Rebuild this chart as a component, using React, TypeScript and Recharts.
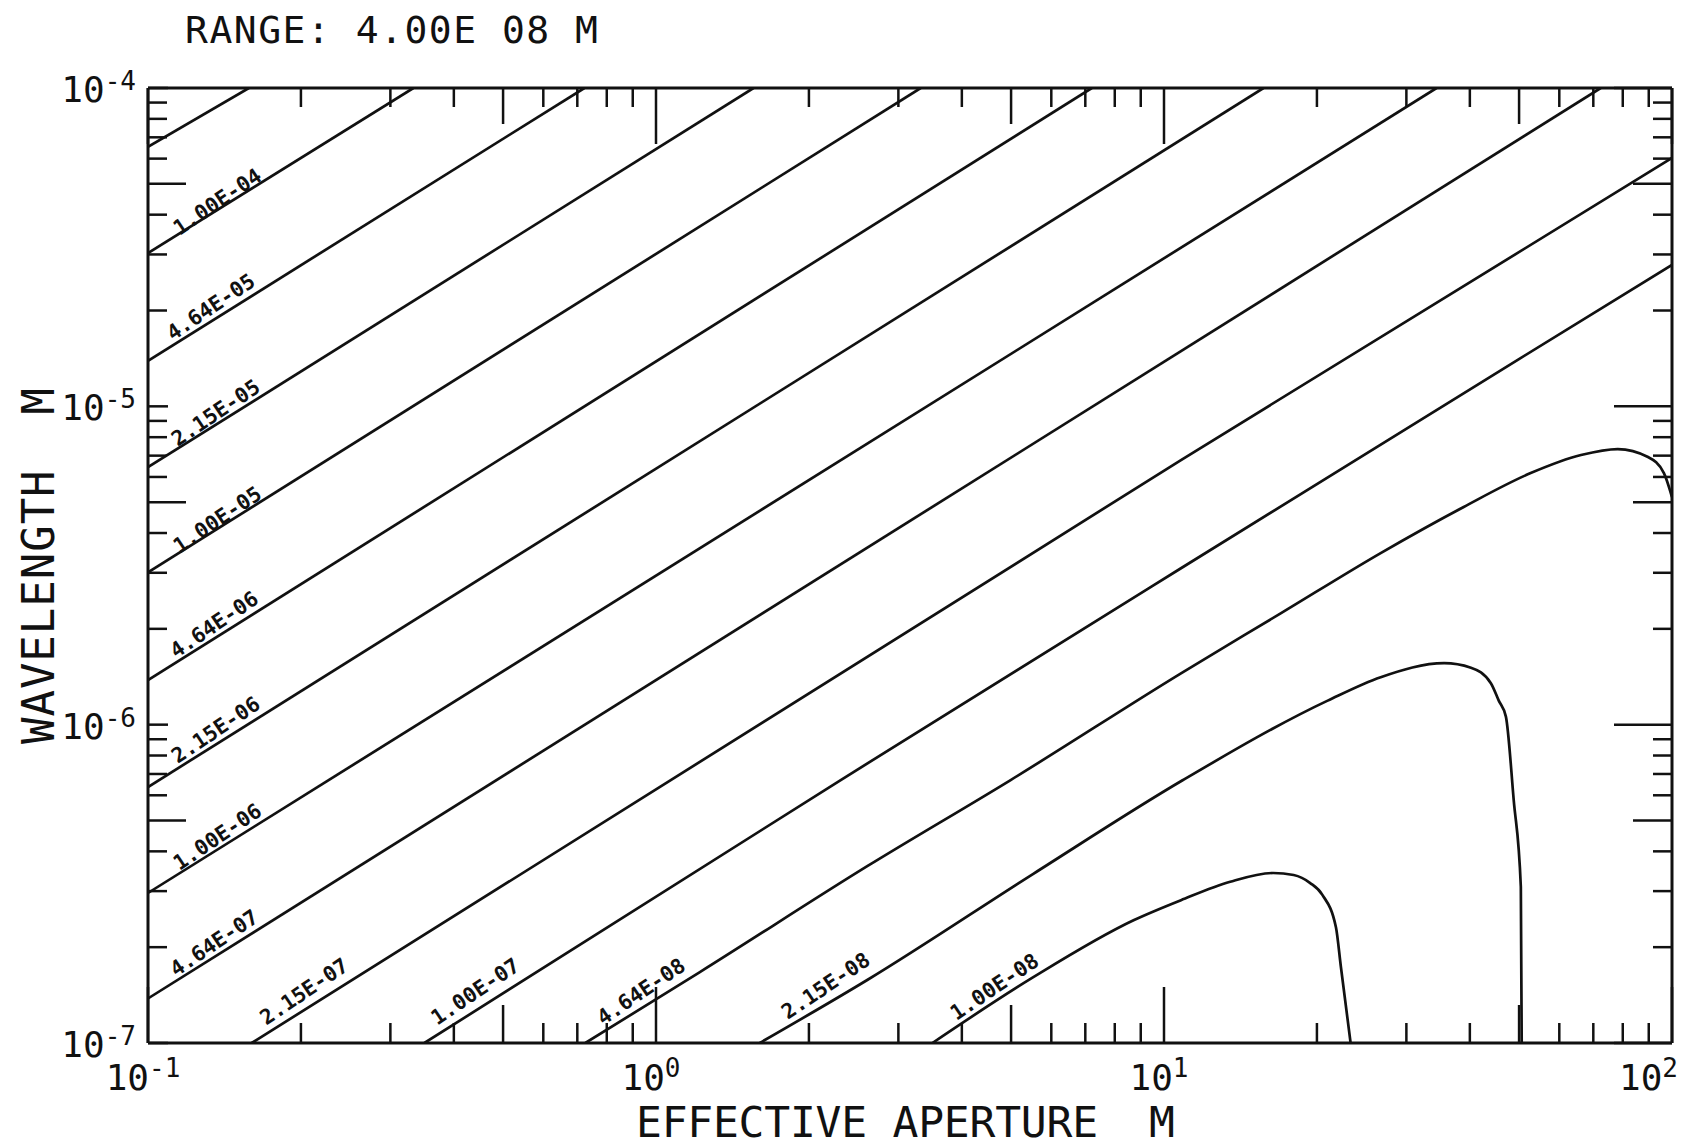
import React from 'react';
import { LineChart, Line, XAxis, YAxis, ReferenceDot } from 'recharts';

// ---------- axis ticks ----------
const apertureTicks = [0.1, 0.2, 0.3, 0.4, 0.5, 0.6, 0.7, 0.8, 0.9, 1, 2, 3, 4, 5, 6, 7, 8, 9, 10, 20, 30, 40, 50, 60, 70, 80, 90, 100];
const wavelengthTicks = [1e-7, 2e-7, 3e-7, 4e-7, 5e-7, 6e-7, 7e-7, 8e-7, 9e-7, 1e-6, 2e-6, 3e-6, 4e-6, 5e-6, 6e-6, 7e-6, 8e-6, 9e-6, 1e-5, 2e-5, 3e-5, 4e-5, 5e-5, 6e-5, 7e-5, 8e-5, 9e-5, 1e-4];
const apertureDecadeLabels: Record<string, string> = { '0.1': '-1', '1': '0', '10': '1', '100': '2' };
const wavelengthDecadeLabels: Record<string, string> = { '1e-7': '-7', '0.000001': '-6', '0.00001': '-5', '0.0001': '-4' };

const titleText = 'RANGE: 4.00E 08 M';
const xTitle = 'EFFECTIVE APERTURE  M';
const yTitle = 'WAVELENGTH  M';

// ---------- contour lines (aperture m, wavelength m) ----------
const c215e4 = [{ a: 0.1, w: 6.53e-5 }, { a: 0.158, w: 1e-4 }];
const c100e4 = [{ a: 0.1, w: 3.03e-5 }, { a: 0.333, w: 1e-4 }];
const c464e5 = [{ a: 0.1, w: 1.39e-5 }, { a: 0.723, w: 1e-4 }];
const c215e5 = [{ a: 0.1, w: 6.44e-6 }, { a: 1.556, w: 1e-4 }];
const c100e5 = [{ a: 0.1, w: 3.01e-6 }, { a: 3.32, w: 1e-4 }];
const c464e6 = [{ a: 0.1, w: 1.38e-6 }, { a: 7.21, w: 1e-4 }];
const c215e6 = [{ a: 0.1, w: 6.37e-7 }, { a: 15.7, w: 1e-4 }];
const c100e6 = [{ a: 0.1, w: 2.96e-7 }, { a: 34.4, w: 1e-4 }];
const c464e7 = [{ a: 0.1, w: 1.38e-7 }, { a: 72.4, w: 1e-4 }];
const c215e7 = [{ a: 0.16, w: 1e-7 }, { a: 10.8, w: 6.78e-6 }, { a: 100, w: 6.03e-5 }];
const c100e7 = [{ a: 0.35, w: 1e-7 }, { a: 2.31, w: 6.7e-7 }, { a: 10.8, w: 3.1e-6 }, { a: 49.7, w: 1.4e-5 }, { a: 100, w: 2.78e-5 }];
const c464e8 = [
  { a: 0.726, w: 1e-7 }, { a: 1.22, w: 1.67e-7 }, { a: 2.61, w: 3.6e-7 }, { a: 4.99, w: 6.7e-7 },
  { a: 10.8, w: 1.45e-6 }, { a: 17.0, w: 2.24e-6 }, { a: 26.7, w: 3.46e-6 }, { a: 38.9, w: 4.83e-6 },
  { a: 52.7, w: 6.17e-6 }, { a: 66.2, w: 7.03e-6 }, { a: 78.2, w: 7.34e-6 }, { a: 89.7, w: 6.93e-6 },
  { a: 96.4, w: 6.17e-6 }, { a: 100, w: 5.19e-6 },
];
const c215e8 = [
  { a: 1.6, w: 1e-7 }, { a: 2.61, w: 1.58e-7 }, { a: 5.53, w: 3.4e-7 }, { a: 10.9, w: 6.7e-7 },
  { a: 21.0, w: 1.19e-6 }, { a: 26.7, w: 1.41e-6 }, { a: 35.6, w: 1.56e-6 }, { a: 40.2, w: 1.51e-6 },
  { a: 44.0, w: 1.35e-6 }, { a: 45.6, w: 1.19e-6 }, { a: 47.1, w: 1.06e-6 }, { a: 48.8, w: 5.79e-7 },
  { a: 50.4, w: 3.09e-7 }, { a: 50.6, w: 1e-7 },
];
const c100e8 = [
  { a: 3.5, w: 1e-7 }, { a: 5.53, w: 1.61e-7 }, { a: 8.71, w: 2.43e-7 }, { a: 10.8, w: 2.81e-7 },
  { a: 13.5, w: 3.21e-7 }, { a: 16.4, w: 3.42e-7 }, { a: 18.0, w: 3.37e-7 }, { a: 19.4, w: 3.18e-7 },
  { a: 20.5, w: 2.92e-7 }, { a: 21.8, w: 2.31e-7 }, { a: 22.3, w: 1.73e-7 }, { a: 23.3, w: 1e-7 },
];
const contours = [c215e4, c100e4, c464e5, c215e5, c100e5, c464e6, c215e6, c100e6, c464e7, c215e7, c100e7, c464e8, c215e8, c100e8];

// ---------- contour level labels (centre position) ----------
const contourLabels = [
  { text: '1.00E-04', a: 0.137, w: 4.39e-5 },
  { text: '4.64E-05', a: 0.133, w: 2.05e-5 },
  { text: '2.15E-05', a: 0.136, w: 9.53e-6 },
  { text: '1.00E-05', a: 0.137, w: 4.4e-6 },
  { text: '4.64E-06', a: 0.135, w: 2.06e-6 },
  { text: '2.15E-06', a: 0.136, w: 9.62e-7 },
  { text: '1.00E-06', a: 0.137, w: 4.44e-7 },
  { text: '4.64E-07', a: 0.135, w: 2.06e-7 },
  { text: '2.15E-07', a: 0.203, w: 1.45e-7 },
  { text: '1.00E-07', a: 0.441, w: 1.45e-7 },
  { text: '4.64E-08', a: 0.935, w: 1.45e-7 },
  { text: '2.15E-08', a: 2.16, w: 1.51e-7 },
  { text: '1.00E-08', a: 4.64, w: 1.5e-7 },
];

const FONT = '"DejaVu Sans Mono", "Liberation Mono", monospace';
const INK = '#111';

function tickKind(v: number): 'decade' | 'five' | 'minor' {
  const e = Math.floor(Math.log10(v) + 1e-9);
  const m = Math.round(v / Math.pow(10, e));
  return m === 1 ? 'decade' : m === 5 ? 'five' : 'minor';
}
const lenOf = (k: string, dec: number, five: number, minor: number) => (k === 'decade' ? dec : k === 'five' ? five : minor);

const BottomTick = (p: any) => {
  const { x, y, payload } = p;
  const v = payload.value;
  const k = tickKind(v);
  const len = lenOf(k, 56, 38, 20);
  const exp = apertureDecadeLabels[String(v)];
  const isLast = v === 100;
  return (
    <g>
      <line x1={x} y1={y} x2={x} y2={y - len} stroke={INK} strokeWidth={2.5} />
      {exp !== undefined && (
        <text x={isLast ? x + 6 : x - 5} y={y + 47} textAnchor={isLast ? 'end' : 'middle'} fontFamily={FONT} fontSize={36} fill={INK}>
          10<tspan dy={-13} fontSize={26}>{exp}</tspan>
        </text>
      )}
    </g>
  );
};
const TopTick = (p: any) => {
  const { x, y, payload } = p;
  const k = tickKind(payload.value);
  const len = lenOf(k, 56, 36, 19);
  return <line x1={x} y1={y} x2={x} y2={y + len} stroke={INK} strokeWidth={2.5} />;
};
const LeftTick = (p: any) => {
  const { x, y, payload } = p;
  const v = payload.value;
  const k = tickKind(v);
  const len = lenOf(k, 20, 38, 19);
  const exp = wavelengthDecadeLabels[String(v)];
  return (
    <g>
      <line x1={x} y1={y} x2={x + len} y2={y} stroke={INK} strokeWidth={2.5} />
      {exp !== undefined && (
        <text x={x - 12} y={y + 14} textAnchor="end" fontFamily={FONT} fontSize={36} fill={INK}>
          10<tspan dy={-12} fontSize={26}>{exp}</tspan>
        </text>
      )}
    </g>
  );
};
const RightTick = (p: any) => {
  const { x, y, payload } = p;
  const k = tickKind(payload.value);
  const len = lenOf(k, 58, 39, 19);
  return <line x1={x} y1={y} x2={x - len} y2={y} stroke={INK} strokeWidth={2.5} />;
};

const makeLabelShape = (text: string) => (p: any) => (
  <text
    x={p.cx}
    y={p.cy}
    transform={`rotate(-34 ${p.cx} ${p.cy})`}
    textAnchor="middle"
    dominantBaseline="central"
    fontFamily={FONT}
    fontWeight="bold"
    fontSize={21}
    fill={INK}
  >
    {text}
  </text>
);

const TitleLabel = () => (
  <text x={185} y={43} fontFamily={FONT} fontSize={38} fill={INK} textLength={413} lengthAdjust="spacing" style={{ whiteSpace: 'pre' }}>
    {titleText}
  </text>
);
const XTitleLabel = () => (
  <text x={636} y={1137} fontFamily={FONT} fontSize={43} fill={INK} textLength={539} lengthAdjust="spacing" style={{ whiteSpace: 'pre' }}>
    {xTitle}
  </text>
);
const YTitleLabel = () => (
  <text
    x={54}
    y={744}
    transform="rotate(-90 54 744)"
    fontFamily={FONT}
    fontSize={44}
    fill={INK}
    textLength={356}
    lengthAdjust="spacing"
    style={{ whiteSpace: 'pre' }}
  >
    {yTitle}
  </text>
);

export default function App() {
  return (
    <div style={{ position: 'absolute', left: 0, top: 0, background: '#fff' }}>
      <LineChart width={1690} height={1146} margin={{ top: 87, right: 17, bottom: 102, left: 147 }}>
        <XAxis
          xAxisId="b"
          orientation="bottom"
          type="number"
          dataKey="a"
          scale="log"
          domain={[0.1, 100]}
          allowDataOverflow
          ticks={apertureTicks}
          interval={0}
          height={1}
          tickSize={0}
          tickMargin={0}
          tickLine={false}
          axisLine={{ stroke: INK, strokeWidth: 3 }}
          tick={(p: any) => <BottomTick {...p} />}
          label={{ content: () => <XTitleLabel /> }}
        />
        <XAxis
          xAxisId="t"
          orientation="top"
          type="number"
          dataKey="a"
          scale="log"
          domain={[0.1, 100]}
          allowDataOverflow
          ticks={apertureTicks}
          interval={0}
          height={1}
          tickSize={0}
          tickMargin={0}
          tickLine={false}
          axisLine={{ stroke: INK, strokeWidth: 3 }}
          tick={(p: any) => <TopTick {...p} />}
          label={{ content: () => <TitleLabel /> }}
        />
        <YAxis
          yAxisId="l"
          orientation="left"
          type="number"
          dataKey="w"
          scale="log"
          domain={[1e-7, 1e-4]}
          allowDataOverflow
          ticks={wavelengthTicks}
          interval={0}
          width={1}
          tickSize={0}
          tickMargin={0}
          tickLine={false}
          axisLine={{ stroke: INK, strokeWidth: 3 }}
          tick={(p: any) => <LeftTick {...p} />}
          label={{ content: () => <YTitleLabel /> }}
        />
        <YAxis
          yAxisId="r"
          orientation="right"
          type="number"
          dataKey="w"
          scale="log"
          domain={[1e-7, 1e-4]}
          allowDataOverflow
          ticks={wavelengthTicks}
          interval={0}
          width={1}
          tickSize={0}
          tickMargin={0}
          tickLine={false}
          axisLine={{ stroke: INK, strokeWidth: 3 }}
          tick={(p: any) => <RightTick {...p} />}
        />
        {contours.map((c, i) => (
          <Line
            key={i}
            xAxisId="b"
            yAxisId="l"
            data={c}
            dataKey="w"
            type="monotoneX"
            stroke={INK}
            strokeWidth={2.7}
            dot={false}
            activeDot={false}
            isAnimationActive={false}
          />
        ))}
        {contourLabels.map((l, i) => (
          <ReferenceDot
            key={'lab' + i}
            xAxisId="b"
            yAxisId="l"
            x={l.a}
            y={l.w}
            r={0}
            ifOverflow="visible"
            shape={makeLabelShape(l.text)}
          />
        ))}
      </LineChart>
    </div>
  );
}
